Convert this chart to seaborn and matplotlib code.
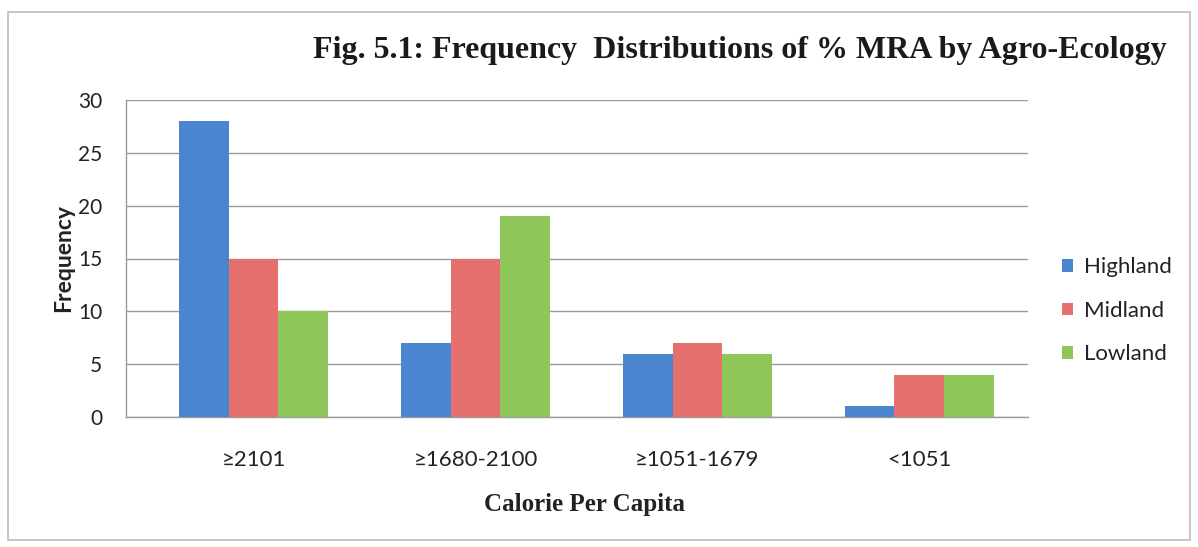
import matplotlib
matplotlib.use("Agg")
import matplotlib.pyplot as plt
import seaborn as sns
import pandas as pd
from matplotlib.patches import Rectangle

categories = ["≥2101", "≥1680-2100", "≥1051-1679", "<1051"]
series = ["Highland", "Midland", "Lowland"]
highland = [28, 7, 6, 1]
midland = [15, 15, 7, 4]
lowland = [10, 19, 6, 4]
yticks = [0, 5, 10, 15, 20, 25, 30]
colors = ["#4A86CF", "#E5706E", "#8FC65A"]

rows = []
for name, vals in zip(series, [highland, midland, lowland]):
    for c, v in zip(categories, vals):
        rows.append({"Category": c, "Series": name, "Frequency": v})
df = pd.DataFrame(rows)

sns.set_theme(style="white")
plt.rcParams["font.family"] = ["Lato", "DejaVu Sans"]

fig = plt.figure(figsize=(11.98, 5.47), dpi=100)
ax = fig.add_axes([126/1198, 1-417/547, (1028-126)/1198, (417-100)/547])

sns.barplot(data=df, x="Category", y="Frequency", hue="Series", order=categories,
            hue_order=series, palette=colors, width=0.67, saturation=1,
            edgecolor="none", linewidth=0, ax=ax, zorder=3)

ax.set_ylim(0, 30)
ax.set_yticks(yticks)
ax.set_xlim(-0.575, 3.49)
ax.yaxis.grid(True, color="#9a9a9a", linewidth=1, zorder=0)
ax.set_axisbelow(True)
for s in ["top", "right"]:
    ax.spines[s].set_visible(False)
for s in ["left", "bottom"]:
    ax.spines[s].set_color("#9a9a9a")
    ax.spines[s].set_linewidth(1)
ax.tick_params(axis="y", length=8, color="#9a9a9a", labelsize=15, pad=9)
ax.tick_params(axis="x", length=0, labelsize=16, pad=24)
for lab in ax.get_xticklabels() + ax.get_yticklabels():
    lab.set_color("#222222")

ax.set_ylabel("Frequency", fontsize=16.5, fontweight="bold", labelpad=3, color="#222222")
ax.set_xlabel("Calorie Per Capita", fontsize=18, fontweight="bold",
              family="Liberation Serif", labelpad=22, color="#222222")
ax.xaxis.set_label_coords((584-126)/(1028-126), -0.24)

leg = ax.legend(loc="center left", bbox_to_anchor=(1.015, 0.335), frameon=False,
                fontsize=16, handlelength=0.5, handleheight=0.5, handletextpad=0.5,
                labelspacing=1.05)
for t in leg.get_texts():
    t.set_color("#222222")

fig.text(0.618, 0.907, "Fig. 5.1: Frequency  Distributions of % MRA by Agro-Ecology",
         ha="center", va="center", fontsize=23, fontweight="bold",
         family="Liberation Serif", color="#1a1a1a")

fig.patches.append(Rectangle((8/1198, 1-540/547), (1190-8)/1198, (540-12)/547,
                             transform=fig.transFigure, fill=False,
                             edgecolor="#bdbdbd", linewidth=1.2))

fig.savefig("out.png", dpi=100)
